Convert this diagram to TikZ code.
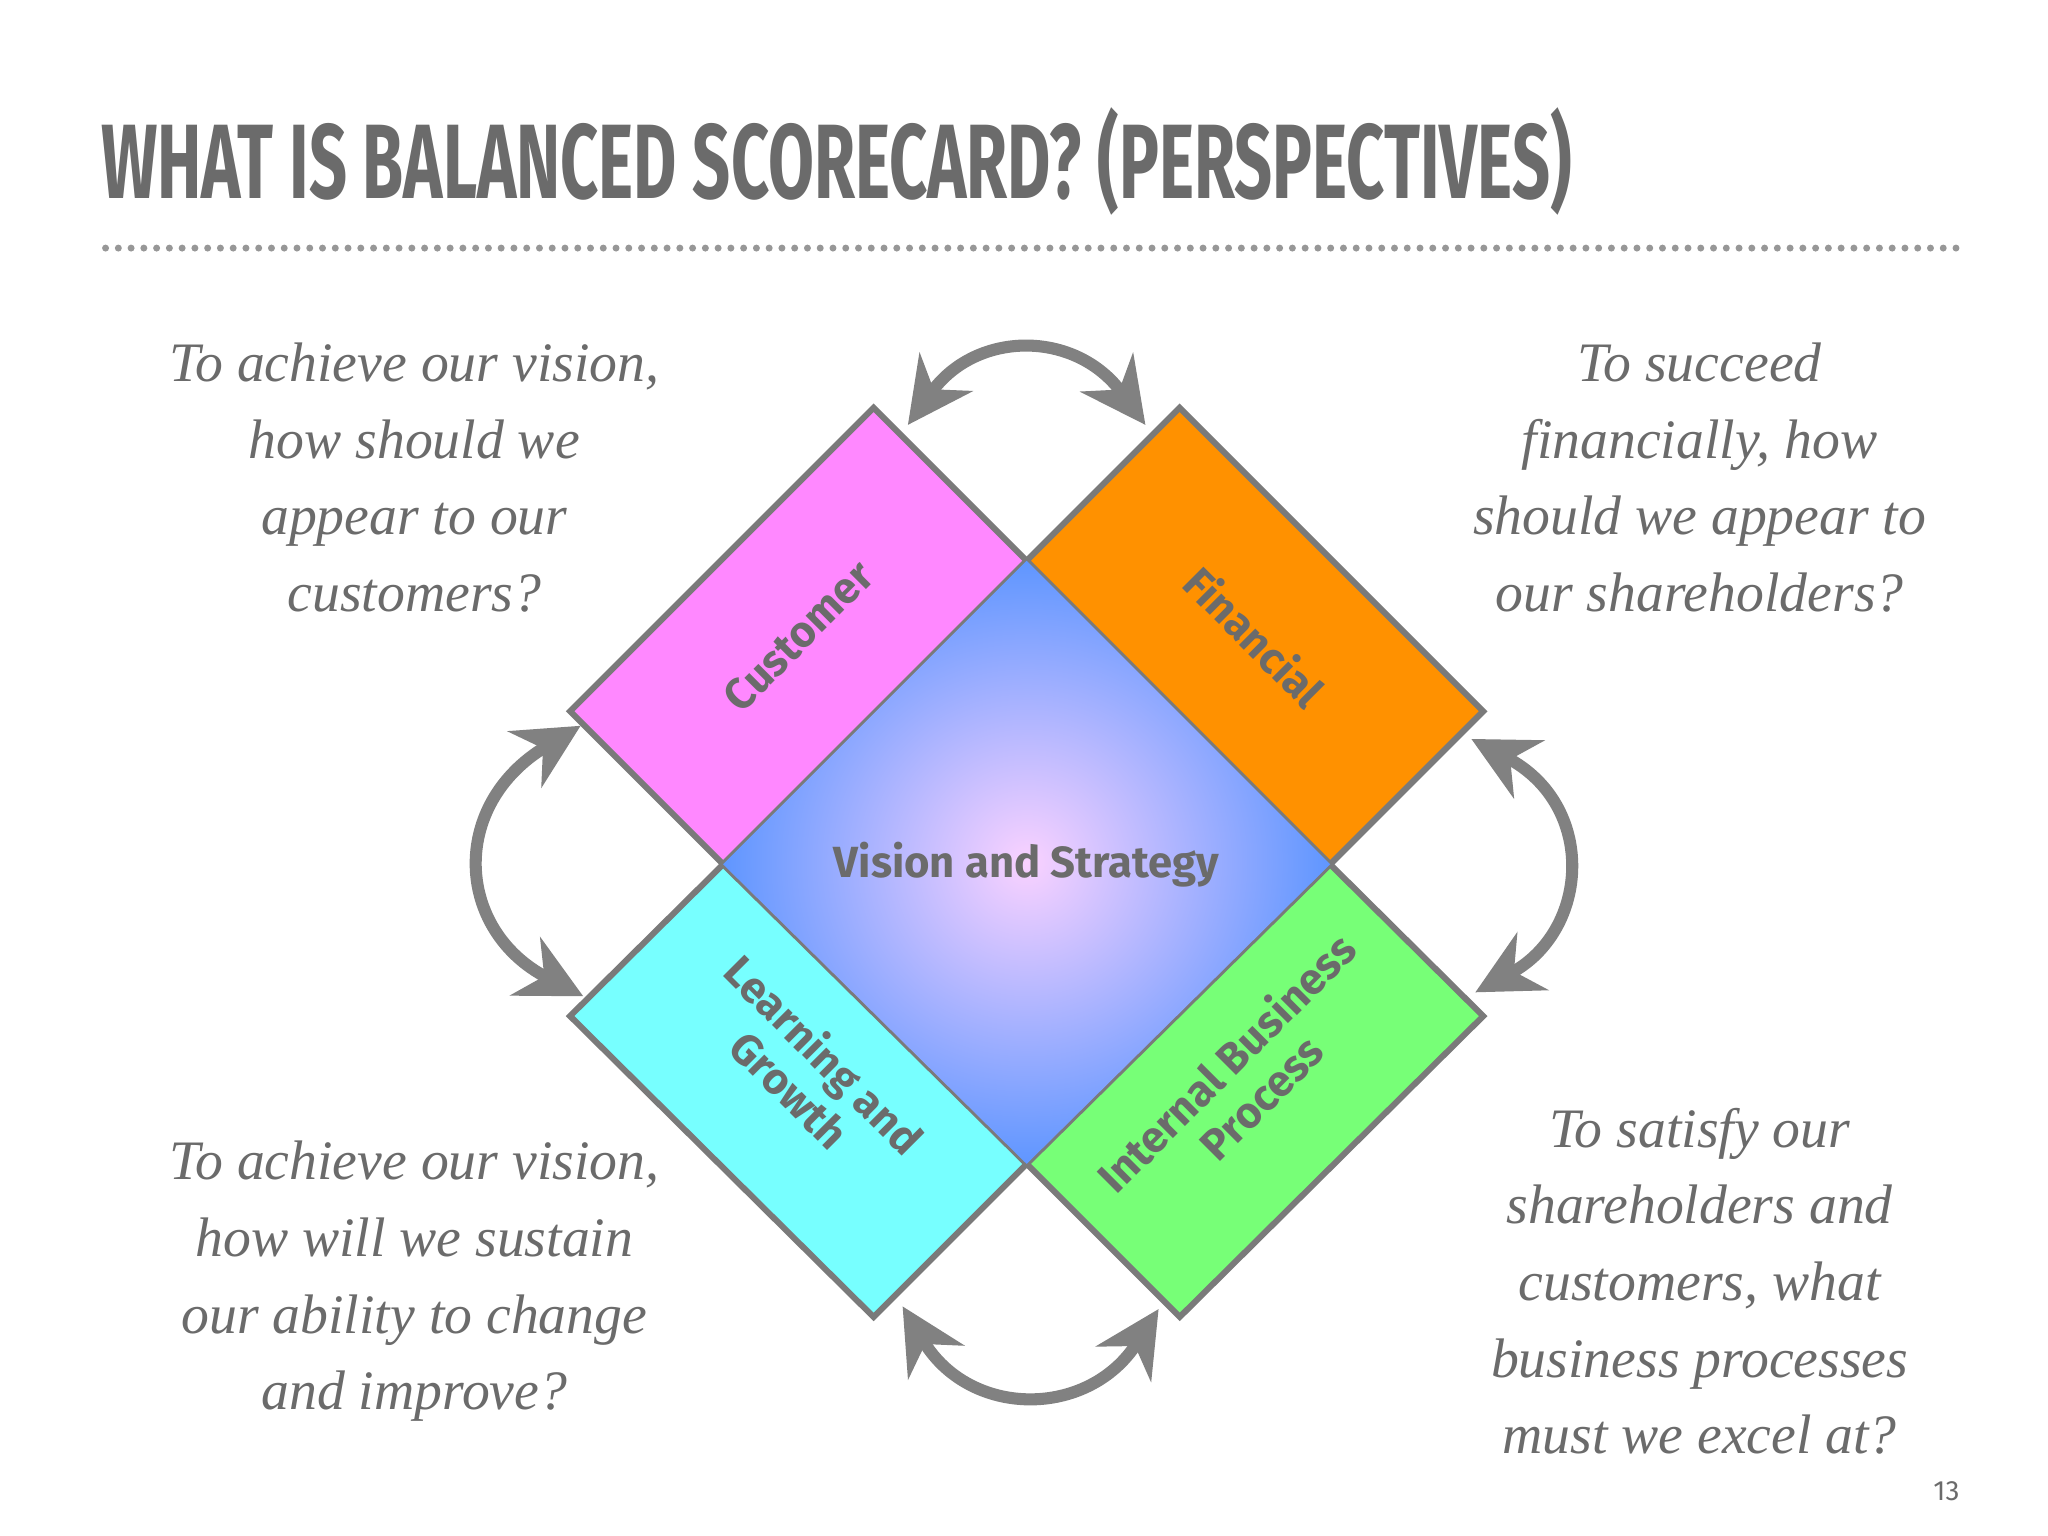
\documentclass[tikz,border=0pt]{standalone}
\usepackage{fontspec}
\setmainfont{Liberation Serif}
\newfontfamily\titlefont{Fira Sans}
\newfontfamily\labfont{Fira Sans}
\usetikzlibrary{arrows.meta}
\definecolor{tgrey}{HTML}{6B6B6B}
\definecolor{cmag}{HTML}{FF88FF}
\definecolor{corg}{HTML}{FF9100}
\definecolor{ccya}{HTML}{77FFFF}
\definecolor{cgrn}{HTML}{77FF77}
\tikzset{
 box/.style={draw=tgrey!90, line width=1.3pt},
 lab/.style={text=tgrey, font=\labfont\fontsize{9.4}{10.6}\selectfont\bfseries, align=center},
 quest/.style={text=tgrey, font=\itshape\fontsize{12}{16.5}\selectfont, align=center},
 carrow/.style={draw=tgrey!85, line width=2.6pt, {Stealth[length=14pt,width=14pt]}-{Stealth[length=14pt,width=14pt]}}
}
\begin{document}
\begin{tikzpicture}[x=0.01cm,y=-0.01cm]
\useasboundingbox[fill=white] (0,0) rectangle (1552,1164);
\node[anchor=west, text=tgrey, inner sep=0] (title) at (76,122)
 {\titlefont\bfseries\fontsize{19}{22}\selectfont\scalebox{0.755}[1.2]{WHAT IS BALANCED SCORECARD? (PERSPECTIVES)}};
\coordinate (dl) at (80,188); \coordinate (dr) at (1488,188);
\draw[tgrey!70, line width=1.5pt, dash pattern=on 0pt off 2.75pt, line cap=round] (dl) -- (dr);
% boxes
\draw[box, fill=cmag] (548,655) -- (778,425) -- (662,309) -- (432,539) -- cycle;
\draw[box, fill=corg] (778,425) -- (1008,655) -- (1124,539) -- (894,309) -- cycle;
\draw[box, fill=ccya] (548,655) -- (778,882) -- (662,998) -- (432,770) -- cycle;
\draw[box, fill=cgrn] (778,882) -- (1008,655) -- (1124,770) -- (894,998) -- cycle;
\shade[inner color={rgb,255:red,250;green,210;blue,255}, outer color={rgb,255:red,95;green,150;blue,255}]
 (778,425) -- (1008,655) -- (778,882) -- (548,655) -- cycle;
\node[lab] (cust) at (605,482) [rotate=45] {Customer};
\node[lab] (fin) at (951,482) [rotate=-45] {Financial};
\node[lab] (learn) at (612,812) [rotate=-45] {Learning and\\Growth};
\node[lab] (ibp) at (942,818) [rotate=45] {Internal Business\\Process};
\node[lab] (vis) at (778,655) {Vision and Strategy};
% arrows
\coordinate (t1) at (688,322); \coordinate (t2) at (868,322);
\coordinate (l1) at (440,550); \coordinate (l2) at (442,755);
\coordinate (r1) at (1115,560); \coordinate (r2) at (1118,752);
\coordinate (b1) at (684,990); \coordinate (b2) at (878,992);
\draw[carrow] (t1) .. controls (740,250) and (815,250) .. (t2);
\draw[carrow] (l1) .. controls (340,610) and (345,705) .. (l2);
\draw[carrow] (r1) .. controls (1210,610) and (1205,705) .. (r2);
\draw[carrow] (b1) .. controls (735,1075) and (825,1075) .. (b2);
% questions
\node[quest] (q1) at (314,362) {To achieve our vision,\\how should we\\appear to our\\customers?};
\node[quest] (q2) at (1288,362) {To succeed\\financially, how\\should we appear to\\our shareholders?};
\node[quest] (q3) at (314,971) {To achieve our vision,\\how will we sustain\\our ability to change\\and improve?};
\node[quest] (q4) at (1288,971) {To satisfy our\\shareholders and\\customers, what\\business processes\\must we excel at?};
\node[text=tgrey, font=\titlefont\fontsize{6}{7}\selectfont] (pg) at (1475,1130) {13};
\end{tikzpicture}
\end{document}
